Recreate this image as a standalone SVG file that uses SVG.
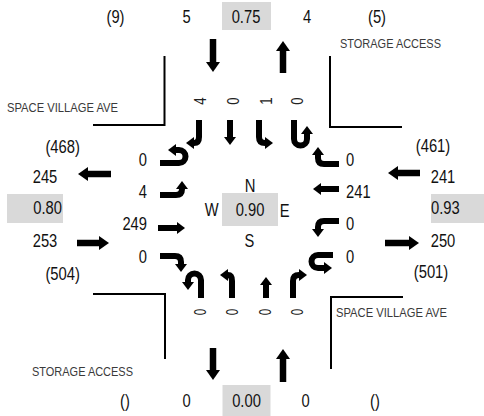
<svg xmlns="http://www.w3.org/2000/svg" width="484" height="416" viewBox="0 0 484 416">
<style>
text{font-family:'Liberation Sans',Arial,sans-serif;fill:#111}
.n{font-size:18px}
.m{text-anchor:middle}
.e{text-anchor:end}
.lab{font-size:13px;fill:#3a3a3a}
.rot{font-size:16px;text-anchor:middle;fill:#222}
.box{fill:#d9d9d9}
.curb{fill:none;stroke:#000;stroke-width:2}
.arr{fill:none;stroke:#000;stroke-width:6.5;stroke-linejoin:round;marker-end:url(#ah)}
.la{fill:none;stroke:#000;stroke-width:6;stroke-linejoin:round;marker-end:url(#ah2)}
</style>
<defs>
<marker id="ah" markerUnits="userSpaceOnUse" markerWidth="10" markerHeight="14" refX="0" refY="7" orient="auto" viewBox="0 0 10 14"><path d="M0,0 L10,7 L0,14 z" fill="#000"/></marker>
<marker id="ah2" markerUnits="userSpaceOnUse" markerWidth="8" markerHeight="12" refX="0" refY="6" orient="auto" viewBox="0 0 8 12"><path d="M0,0 L8,6 L0,12 z" fill="#000"/></marker>
</defs>

<g id="curbs">
<path class="curb" d="M164.5,56 V125 H93"/>
<path class="curb" d="M330,56 V127 H402"/>
<path class="curb" d="M93,294 H165 V359"/>
<path class="curb" d="M403,297 H331 V369"/>
</g>

<g id="street-labels">
<text class="lab" x="340" y="48" textLength="101" lengthAdjust="spacingAndGlyphs">STORAGE ACCESS</text>
<text class="lab" x="7" y="112" textLength="111" lengthAdjust="spacingAndGlyphs">SPACE VILLAGE AVE</text>
<text class="lab" x="336" y="317" textLength="111" lengthAdjust="spacingAndGlyphs">SPACE VILLAGE AVE</text>
<text class="lab" x="32" y="376" textLength="101" lengthAdjust="spacingAndGlyphs">STORAGE ACCESS</text>
</g>

<g id="north-leg">
<rect class="box" x="222" y="2" width="49" height="28"/>
<text class="n m" x="115.5" y="23" textLength="18" lengthAdjust="spacingAndGlyphs">(9)</text>
<text class="n m" x="186.5" y="23" textLength="8.2" lengthAdjust="spacingAndGlyphs">5</text>
<text class="n m" x="246" y="23" textLength="28.7" lengthAdjust="spacingAndGlyphs">0.75</text>
<text class="n m" x="307" y="23" textLength="8.2" lengthAdjust="spacingAndGlyphs">4</text>
<text class="n m" x="377" y="23" textLength="18" lengthAdjust="spacingAndGlyphs">(5)</text>
</g>

<g id="south-leg">
<rect class="box" x="222.5" y="385" width="48" height="31"/>
<text class="n m" x="125" y="407" textLength="9.8" lengthAdjust="spacingAndGlyphs">()</text>
<text class="n m" x="186.7" y="407" textLength="8.2" lengthAdjust="spacingAndGlyphs">0</text>
<text class="n m" x="246.5" y="407" textLength="28.7" lengthAdjust="spacingAndGlyphs">0.00</text>
<text class="n m" x="305.7" y="407" textLength="8.2" lengthAdjust="spacingAndGlyphs">0</text>
<text class="n m" x="375" y="407" textLength="9.8" lengthAdjust="spacingAndGlyphs">()</text>
</g>

<g id="west-leg">
<rect class="box" x="7" y="194" width="56" height="29"/>
<text class="n m" x="62.7" y="153" textLength="34.5" lengthAdjust="spacingAndGlyphs">(468)</text>
<text class="n m" x="45" y="183" textLength="24.6" lengthAdjust="spacingAndGlyphs">245</text>
<text class="n e" x="62" y="214" textLength="28.7" lengthAdjust="spacingAndGlyphs">0.80</text>
<text class="n m" x="45" y="247" textLength="24.6" lengthAdjust="spacingAndGlyphs">253</text>
<text class="n m" x="62.7" y="280" textLength="34.5" lengthAdjust="spacingAndGlyphs">(504)</text>
</g>

<g id="east-leg">
<rect class="box" x="431" y="194" width="56" height="29"/>
<text class="n m" x="433" y="152" textLength="34.5" lengthAdjust="spacingAndGlyphs">(461)</text>
<text class="n m" x="443" y="183" textLength="24.6" lengthAdjust="spacingAndGlyphs">241</text>
<text class="n" x="431" y="214" textLength="28.7" lengthAdjust="spacingAndGlyphs">0.93</text>
<text class="n m" x="443" y="247" textLength="24.6" lengthAdjust="spacingAndGlyphs">250</text>
<text class="n m" x="431" y="278" textLength="34.5" lengthAdjust="spacingAndGlyphs">(501)</text>
</g>

<g id="center">
<rect class="box" x="222" y="193" width="56" height="33"/>
<text class="n m" x="250" y="191.5" textLength="10.7" lengthAdjust="spacingAndGlyphs">N</text>
<text class="n m" x="211.7" y="215.5" textLength="13.9" lengthAdjust="spacingAndGlyphs">W</text>
<text class="n m" x="250" y="216" textLength="28.7" lengthAdjust="spacingAndGlyphs">0.90</text>
<text class="n m" x="284.7" y="216.5" textLength="9.8" lengthAdjust="spacingAndGlyphs">E</text>
<text class="n m" x="249.5" y="246.5" textLength="9.8" lengthAdjust="spacingAndGlyphs">S</text>
</g>

<g id="sb-volumes">
<text class="rot" transform="translate(200,101) rotate(-90)" y="5.5" textLength="7.3" lengthAdjust="spacingAndGlyphs">4</text>
<text class="rot" transform="translate(233,101) rotate(-90)" y="5.5" textLength="7.3" lengthAdjust="spacingAndGlyphs">0</text>
<text class="rot" transform="translate(266,101) rotate(-90)" y="5.5" textLength="7.3" lengthAdjust="spacingAndGlyphs">1</text>
<text class="rot" transform="translate(297,101) rotate(-90)" y="5.5" textLength="7.3" lengthAdjust="spacingAndGlyphs">0</text>
</g>
<g id="nb-volumes">
<text class="rot" transform="translate(200,312) rotate(-90)" y="5.5" textLength="6.5" lengthAdjust="spacingAndGlyphs">0</text>
<text class="rot" transform="translate(232,312) rotate(-90)" y="5.5" textLength="6.5" lengthAdjust="spacingAndGlyphs">0</text>
<text class="rot" transform="translate(265,312) rotate(-90)" y="5.5" textLength="6.5" lengthAdjust="spacingAndGlyphs">0</text>
<text class="rot" transform="translate(297,312) rotate(-90)" y="5.5" textLength="6.5" lengthAdjust="spacingAndGlyphs">0</text>
</g>
<g id="eb-volumes">
<text class="n e" x="147" y="166" textLength="8.2" lengthAdjust="spacingAndGlyphs">0</text>
<text class="n e" x="147" y="198" textLength="8.2" lengthAdjust="spacingAndGlyphs">4</text>
<text class="n e" x="147" y="230" textLength="24.6" lengthAdjust="spacingAndGlyphs">249</text>
<text class="n e" x="147" y="263" textLength="8.2" lengthAdjust="spacingAndGlyphs">0</text>
</g>
<g id="wb-volumes">
<text class="n" x="346" y="166" textLength="8.2" lengthAdjust="spacingAndGlyphs">0</text>
<text class="n" x="346" y="198" textLength="24.6" lengthAdjust="spacingAndGlyphs">241</text>
<text class="n" x="346" y="230" textLength="8.2" lengthAdjust="spacingAndGlyphs">0</text>
<text class="n" x="346" y="263" textLength="8.2" lengthAdjust="spacingAndGlyphs">0</text>
</g>

<g id="connectors">
<path class="arr" d="M213,39 V62"/>
<path class="arr" d="M283,73 V51"/>
<path class="arr" d="M111,174 H88"/>
<path class="arr" d="M77,243 H99"/>
<path class="arr" d="M420,173 H398"/>
<path class="arr" d="M385,243 H409"/>
<path class="arr" d="M213,348 V370"/>
<path class="arr" d="M283,382 V359"/>

<path class="la" d="M199,120 V137 Q199,143 194,143"/>
<path class="la" d="M230,120 V137"/>
<path class="la" d="M259,120 V137 Q259,143 265,143"/>
<path class="la" d="M294,120 V139 A6.5,6.5 0 0 0 307,139 V134"/>

<path class="la" d="M201,298 V280 A6.5,6.5 0 0 0 188,280 V282"/>
<path class="la" d="M232,298 V281 Q232,275 228,275"/>
<path class="la" d="M266,298 V285"/>
<path class="la" d="M293,298 V281 Q293,275 299,275"/>

<path class="la" d="M160,163 H179 A6.5,6.5 0 0 0 179,150 H176"/>
<path class="la" d="M160,195 H176 Q182,195 182,189"/>
<path class="la" d="M158,228 H177"/>
<path class="la" d="M160,256 H175 Q181,256 181,262 V264"/>

<path class="la" d="M339,164 H324 Q318,164 318,158 V155"/>
<path class="la" d="M339,189 H321"/>
<path class="la" d="M339,221 H324 Q318,221 318,227 V229"/>
<path class="la" d="M333,255 H318 A6.5,6.5 0 0 0 318,268 H324"/>
</g>
</svg>
